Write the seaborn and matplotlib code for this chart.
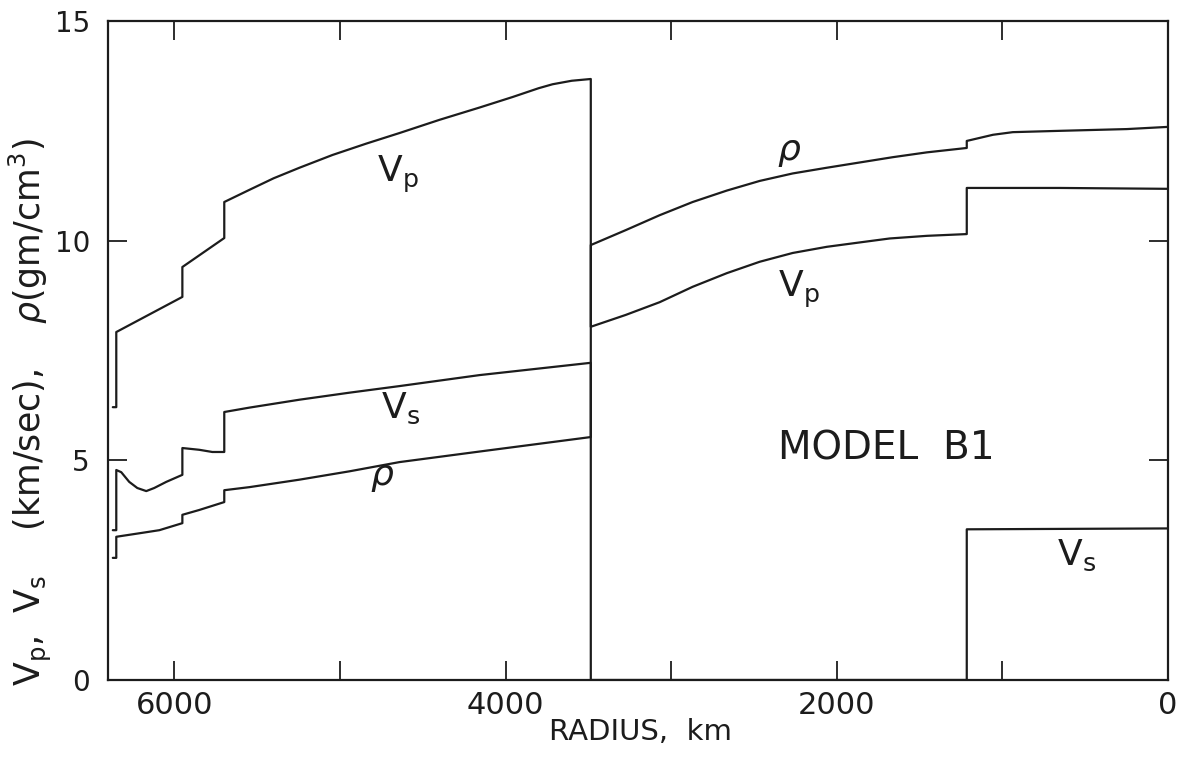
import matplotlib
matplotlib.use("Agg")
import matplotlib.pyplot as plt
import seaborn as sns
import pandas as pd

# Earth model B1: P velocity, S velocity and density versus radius (km)
vp_radius = [6371, 6350, 6350, 5951, 5951, 5698, 5698, 5550, 5400, 5244, 5045,
             4840, 4640, 4399, 4157, 3957, 3800, 3716, 3600, 3485, 3485, 3274,
             3069, 2870, 2664, 2465, 2266, 2060, 1861, 1680, 1456, 1215, 1215,
             653, 0]
vp_values = [6.21, 6.21, 7.92, 8.72, 9.40, 10.06, 10.88, 11.15, 11.42, 11.66, 11.95,
             12.21, 12.45, 12.75, 13.03, 13.27, 13.47, 13.56, 13.64, 13.68, 8.04, 8.31,
             8.60, 8.95, 9.26, 9.52, 9.72, 9.86, 9.96, 10.05, 10.11, 10.15, 11.20,
             11.20, 11.18]

vs_radius = [6371, 6350, 6350, 6320, 6272, 6223, 6169, 6121, 6048, 5951, 5951,
             5849, 5770, 5698, 5698, 5546, 5244, 4942, 4640, 4157, 3485, 3485,
             1215, 1215, 0]
vs_values = [3.41, 3.41, 4.78, 4.73, 4.51, 4.37, 4.30, 4.37, 4.51, 4.67, 5.28,
             5.24, 5.19, 5.19, 6.10, 6.20, 6.38, 6.54, 6.69, 6.94, 7.22, 0.0,
             0.0, 3.43, 3.45]

rho_radius = [6371, 6350, 6350, 6193, 6090, 5951, 5951, 5849, 5698, 5698, 5546,
              5244, 4942, 4640, 4157, 3485, 3485, 3274, 3069, 2870, 2664, 2465,
              2266, 2060, 1861, 1662, 1456, 1215, 1215, 1057, 937, 653, 248, 0]
rho_values = [2.78, 2.78, 3.26, 3.35, 3.41, 3.57, 3.76, 3.87, 4.05, 4.32, 4.39,
              4.56, 4.75, 4.96, 5.20, 5.53, 9.90, 10.24, 10.58, 10.88, 11.14, 11.36,
              11.53, 11.66, 11.78, 11.90, 12.01, 12.11, 12.27, 12.41, 12.47, 12.50,
              12.54, 12.59]

x_ticks = [6000, 5000, 4000, 3000, 2000, 1000, 0]
x_tick_labels = ["6000", "", "4000", "", "2000", "", "0"]
y_ticks = [0, 5, 10, 15]
y_tick_labels = ["0", "5", "10", "15"]

sns.set_theme(style="ticks")
plt.rcParams["font.family"] = ["DejaVu Sans"]
plt.rcParams["mathtext.fontset"] = "dejavusans"

ink = "#1c1c1c"

fig = plt.figure(figsize=(11.86, 7.57), dpi=100)
ax = fig.add_axes([108 / 1186, 77 / 757, 1060 / 1186, 659 / 757])

for r, v in [(vp_radius, vp_values), (vs_radius, vs_values), (rho_radius, rho_values)]:
    df = pd.DataFrame({"radius": r, "value": v})
    sns.lineplot(data=df, x="radius", y="value", sort=False, estimator=None,
                 color=ink, linewidth=1.6, ax=ax)

ax.set_xlim(6400, 0)
ax.set_ylim(0, 15)

ax.set_xticks(x_ticks)
ax.set_xticklabels(x_tick_labels)
ax.set_yticks(y_ticks)
ax.set_yticklabels(y_tick_labels)
ax.tick_params(axis="both", which="major", direction="in", length=14, width=1.3,
               color=ink, labelcolor=ink, top=True, right=True)
ax.tick_params(axis="x", pad=8, labelsize=22)
ax.tick_params(axis="y", pad=13, labelsize=20)

for side in ax.spines.values():
    side.set_linewidth(1.6)
    side.set_color(ink)

ax.set_xlabel("RADIUS,  km", fontsize=21, color=ink)
ax.xaxis.set_label_coords(0.502, -0.058)
ax.set_ylabel(r"V$_\mathregular{p}$,  V$_\mathregular{s}$    (km/sec),    $\rho$(gm/cm$^\mathregular{3}$)",
              fontsize=25, color=ink)
ax.yaxis.set_label_coords(-0.051, 0.407)

# curve labels
lab = dict(fontsize=26, color=ink, ha="left", va="baseline")
ax.text(4773, 11.34, r"V$_\mathregular{p}$", **lab)
ax.text(4749, 5.96, r"V$_\mathregular{s}$", **lab)
ax.text(4821, 4.44, r"$\rho$", **lab)
ax.text(2362, 11.84, r"$\rho$", **lab)
ax.text(2356, 8.72, r"V$_\mathregular{p}$", **lab)
ax.text(671, 2.62, r"V$_\mathregular{s}$", **lab)
ax.text(2356, 5.01, "MODEL  B1", fontsize=28, color=ink, ha="left", va="baseline")

fig.savefig("out.png", dpi=100)
